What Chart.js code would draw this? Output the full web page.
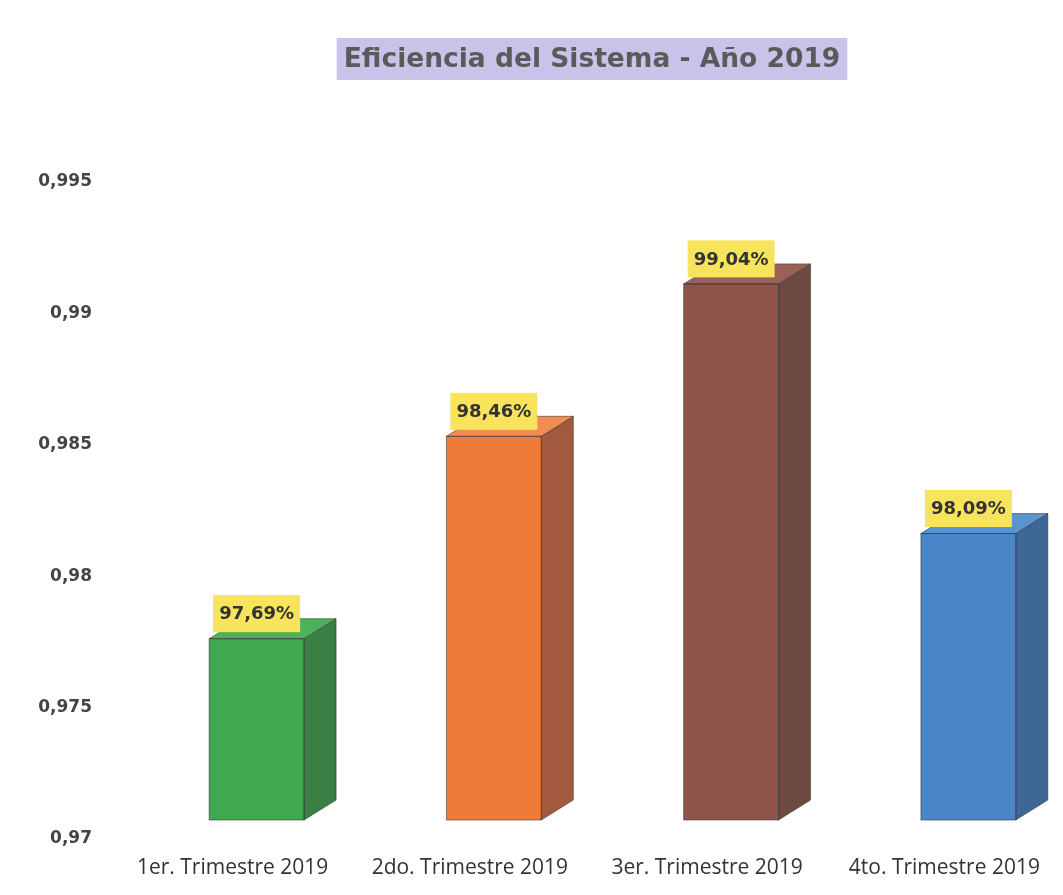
<!DOCTYPE html>
<html>
<head>
<meta charset="utf-8">
<script src="https://cdn.jsdelivr.net/npm/chart.js@4"></script>
<style>
  html, body { margin: 0; padding: 0; background: #fff; overflow: hidden; }
  #grafico { display: block; }
</style>
</head>
<body>
<canvas id="grafico" width="1087" height="895" style="width:1087px;height:895px"></canvas>
<script>
const categorias = ['1er. Trimestre 2019', '2do. Trimestre 2019', '3er. Trimestre 2019', '4to. Trimestre 2019'];
const eficiencia = [0.9769, 0.9846, 0.9904, 0.9809];
const yTicks = [0.97, 0.975, 0.98, 0.985, 0.99, 0.995];
const titulo = 'Eficiencia del Sistema - Año 2019';

const coloresFrente = ['#3ea94e', '#ef7b3b', '#8d5449', '#4a86c8'];
const coloresLado = ['#3a7f44', '#a2593d', '#6c4a42', '#3e6797'];
const coloresTapa = ['#4cb25a', '#f28c52', '#9a6156', '#5a93d0'];

// caras laterales y superiores para el efecto 3D
const efecto3d = {
  id: 'efecto3d',
  afterDatasetsDraw(chart) {
    const ctx = chart.ctx;
    const dx = 32, dy = 20;
    chart.getDatasetMeta(0).data.forEach((bar, i) => {
      const left = bar.x - bar.width / 2;
      const right = bar.x + bar.width / 2;
      const top = bar.y;
      const base = bar.base;
      ctx.save();
      ctx.strokeStyle = 'rgba(50,50,50,0.55)';
      ctx.lineWidth = 1;
      ctx.fillStyle = coloresLado[i];
      ctx.beginPath();
      ctx.moveTo(right, top);
      ctx.lineTo(right + dx, top - dy);
      ctx.lineTo(right + dx, base - dy);
      ctx.lineTo(right, base);
      ctx.closePath();
      ctx.fill();
      ctx.stroke();
      ctx.fillStyle = coloresTapa[i];
      ctx.beginPath();
      ctx.moveTo(left, top);
      ctx.lineTo(left + dx, top - dy);
      ctx.lineTo(right + dx, top - dy);
      ctx.lineTo(right, top);
      ctx.closePath();
      ctx.fill();
      ctx.stroke();
      ctx.strokeRect(left, top, bar.width, base - top);
      ctx.restore();
    });
  }
};

// etiquetas de valor en recuadro amarillo
const etiquetas = {
  id: 'etiquetas',
  afterDraw(chart) {
    const ctx = chart.ctx;
    const ds = chart.data.datasets[0];
    chart.getDatasetMeta(0).data.forEach((bar, i) => {
      const txt = (ds.data[i] * 100).toFixed(2).replace('.', ',') + '%';
      ctx.save();
      ctx.font = 'bold 18px "DejaVu Sans"';
      const w = ctx.measureText(txt).width + 12;
      const h = 37;
      const cy = bar.y - 25;
      ctx.fillStyle = '#f7e35c';
      ctx.fillRect(bar.x - w / 2, cy - h / 2, w, h);
      ctx.fillStyle = '#333';
      ctx.textAlign = 'center';
      ctx.textBaseline = 'middle';
      ctx.fillText(txt, bar.x, cy + 1);
      ctx.restore();
    });
  }
};

const tituloCaja = {
  id: 'tituloCaja',
  afterDraw(chart) {
    const ctx = chart.ctx;
    ctx.save();
    ctx.font = 'bold 26.5px "DejaVu Sans"';
    const w = ctx.measureText(titulo).width;
    const cx = 592, cy = 59;
    ctx.fillStyle = '#c9c3e9';
    ctx.fillRect(cx - w / 2 - 7, cy - 21, w + 14, 42);
    ctx.fillStyle = '#5a5a5a';
    ctx.textAlign = 'center';
    ctx.textBaseline = 'middle';
    ctx.fillText(titulo, cx, cy + 1);
    ctx.restore();
  }
};

new Chart(document.getElementById('grafico'), {
  type: 'bar',
  data: {
    labels: categorias,
    datasets: [{
      data: eficiencia,
      base: 0.97,
      backgroundColor: coloresFrente,
      borderWidth: 0,
      barPercentage: 0.4,
      categoryPercentage: 1
    }]
  },
  options: {
    responsive: false,
    animation: false,
    layout: { padding: { top: 163, left: 0, right: 0, bottom: 0 } },
    plugins: {
      legend: { display: false },
      title: { display: false },
      tooltip: { enabled: false }
    },
    scales: {
      x: {
        grid: { display: false },
        border: { display: false },
        ticks: {
          color: '#333',
          font: { family: '"Open Sans"', size: 21 },
          padding: 27,
          labelOffset: -24,
          maxRotation: 0,
          autoSkip: false
        },
        afterFit(scale) {
          scale.height = 75;
          scale.paddingLeft = 0;
          scale.paddingRight = 0;
        }
      },
      y: {
        min: 0.97,
        max: 0.995,
        grid: { display: false },
        border: { display: false },
        afterBuildTicks(scale) { scale.ticks = yTicks.map(v => ({ value: v })); },
        ticks: {
          color: '#444',
          font: { family: '"DejaVu Sans"', size: 17, weight: 'bold' },
          padding: 38,
          labelOffset: 19,
          callback: v => String(parseFloat(v.toFixed(3))).replace('.', ',')
        },
        afterFit(scale) { scale.width = 138; }
      }
    }
  },
  plugins: [efecto3d, etiquetas, tituloCaja]
});
</script>
</body>
</html>
